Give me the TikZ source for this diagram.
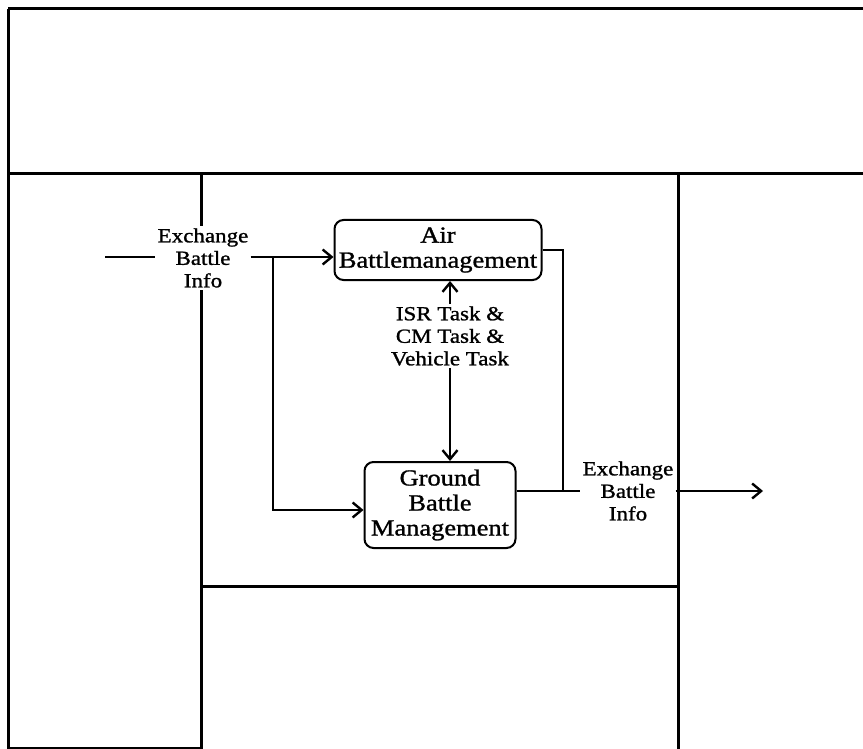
\documentclass[tikz,border=0pt]{standalone}
\usepackage{fontspec}
\setmainfont{Liberation Serif}[FakeStretch=1.15,FakeBold=1.2]
\usetikzlibrary{arrows.meta,positioning}

\begin{document}
\begin{tikzpicture}[x=1pt,y=-1pt,
  lane/.style={line width=3pt},
  func/.style={draw, line width=2pt, rounded corners=9pt, align=center, inner sep=0pt, font=\fontsize{23}{25}\selectfont},
  lbl/.style={fill=white, align=center, inner sep=2pt, font=\fontsize{20}{22.5}\selectfont},
  flow/.style={line width=2pt},
  >={Straight Barb[length=9pt,width=15pt,line width=2.4pt]}
]
\useasboundingbox (0,0) rectangle (863,749);

% swim lanes
\draw[lane] (8,9) -- (863,9);
\draw[lane] (8,9) -- (8,749);
\draw[lane] (8,174) -- (863,174);
\draw[lane] (201,174) -- (201,749);
\draw[lane] (678,174) -- (678,749);
\draw[lane] (201,586) -- (678,586);
\draw[lane] (8,748) -- (201,748);

\node[func, minimum width=207pt, minimum height=60pt] (air) at (438,250) {Air\\Battlemanagement};
\node[func, minimum width=151pt, minimum height=86pt] (gnd) at (440,505) {Ground\\Battle\\Management};

\node[lbl] (xin) at (203,258) {Exchange\\Battle\\Info};
\node[lbl] (xout) at (628,491) {Exchange\\Battle\\Info};
\node[lbl, fill=none] (task) at (450,336) {ISR Task \&\\CM Task \&\\Vehicle Task};

\coordinate (src) at (105,257);
\coordinate (split) at (273,257);
\coordinate (bend) at (273,510);
\coordinate (merge) at (563,491);
\coordinate (sink) at (763,491);

% incoming exchange, split to both functions
\draw[flow] (src) -- (xin.west |- src);
\draw[flow,->] (xin.east |- src) -- (src -| air.west);
\draw[flow,->] (split) -- (bend) -- (bend -| gnd.west);

% tasking between air and ground
\draw[flow,->] (task) -- (task |- air.south);
\draw[flow,->] (task) -- (task |- gnd.north);

% outgoing exchange
\draw[flow] (air.east) -| (merge);
\draw[flow] (gnd.east |- merge) -- (xout.west |- merge);
\draw[flow,->] (xout.east |- merge) -- (sink);
\end{tikzpicture}
\end{document}
